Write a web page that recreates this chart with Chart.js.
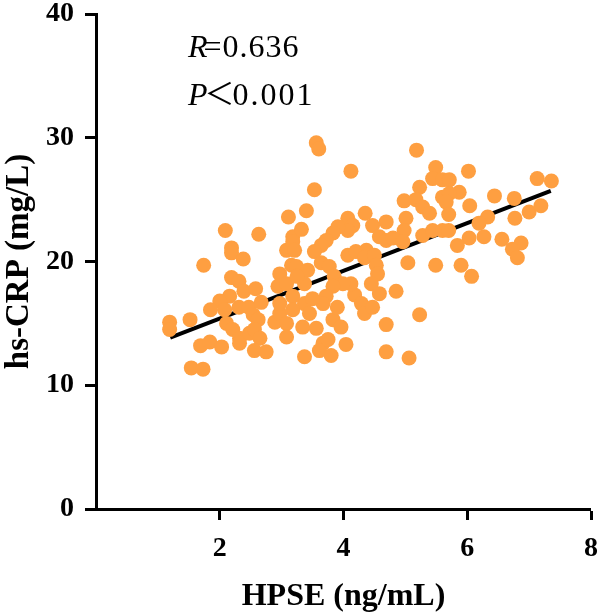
<!DOCTYPE html>
<html>
<head>
<meta charset="utf-8">
<script src="https://cdn.jsdelivr.net/npm/chart.js@4/dist/chart.umd.min.js"></script>
<style>
  html, body { margin: 0; padding: 0; background: #fff; }
  #wrap { width: 600px; height: 616px; position: relative; }
</style>
</head>
<body>
<div id="wrap"><canvas id="c" width="600" height="616"></canvas></div>
<script>
// HPSE (ng/mL) values
const hpse = [
  3.11, 2.09, 2.63, 2.19, 2.19, 2.38, 1.74, 2.19, 2.31, 2.39,
  2.58, 2.16, 2.00, 1.85, 2.08, 2.31, 2.47, 2.67, 2.54, 2.62,
  1.52, 1.19, 1.19, 2.11, 2.21, 2.32, 2.32, 2.48, 2.56, 2.65,
  2.56, 2.75, 1.69, 1.84, 2.03, 1.54, 1.73, 2.89, 2.97, 3.08,
  3.08, 2.97, 2.97, 3.16, 3.08, 3.18, 2.94, 3.08,
  3.56, 3.60, 5.18, 4.12, 5.49, 3.53, 3.40, 3.32, 4.35, 4.07,
  4.15, 4.07, 4.47, 4.69, 4.98, 5.23, 5.44, 5.60, 5.17, 5.28,
  5.39, 5.60, 5.01, 4.98, 5.28, 5.44, 5.60, 4.58, 4.69, 4.80,
  4.96, 3.91, 3.83, 3.72, 3.64, 3.53, 3.18, 3.21, 3.24, 3.42,
  3.64, 3.77, 3.85, 4.07, 4.20, 4.37, 4.34, 4.50, 4.53, 4.55,
  4.45, 4.58, 4.85, 5.04, 5.49, 5.23, 4.69, 4.69, 5.06, 3.37,
  4.04, 3.67, 3.61, 3.80, 3.75, 3.34, 3.56, 3.83, 3.96, 4.18,
  4.29, 4.34, 4.47, 4.12, 3.99, 3.83, 3.72, 3.67, 3.37, 3.37,
  3.18, 3.18, 3.45,
  6.02, 7.13, 7.36, 6.44, 6.76, 6.04, 5.71, 5.87, 5.71, 5.66,
  5.70, 6.33, 6.19, 6.77, 7.00, 7.19, 5.70, 6.03, 6.27, 5.84,
  6.56, 6.87, 6.73, 6.81, 5.90, 6.07,
  3.25, 3.50, 3.90
];
// hs-CRP (mg/L) values
const crp = [
  23.6, 22.5, 22.2, 21.1, 20.7, 20.2, 19.7, 18.7, 18.4, 17.6,
  17.8, 17.2, 16.8, 16.1, 16.1, 16.3, 16.3, 16.7, 15.7, 15.3,
  15.3, 15.1, 14.5, 15.0, 14.5, 13.8, 13.4, 14.2, 14.5, 13.8,
  12.8, 12.7, 13.2, 13.5, 13.1, 11.4, 11.3, 15.1, 15.8, 15.0,
  13.9, 16.6, 19.0, 19.7, 20.9, 22.0, 18.0, 18.2,
  29.6, 29.1, 29.0, 27.3, 27.6, 25.8, 24.1, 22.6, 23.9, 23.5,
  22.9, 22.5, 22.9, 23.2, 24.9, 26.0, 26.7, 26.6, 25.0, 24.4,
  23.9, 25.2, 23.5, 22.5, 22.1, 22.5, 22.5, 22.0, 21.7, 21.9,
  21.6, 22.8, 22.3, 21.7, 21.3, 20.8, 21.6, 20.9, 19.6, 19.3,
  19.9, 19.6, 18.8, 20.5, 20.8, 20.9, 20.3, 20.5, 19.7, 19.0,
  18.2, 17.4, 17.6, 19.9, 19.7, 15.7, 14.9, 12.7, 12.2, 12.3,
  13.3, 13.4, 12.8, 12.4, 13.7, 14.7, 14.6, 15.3, 14.7, 17.3,
  16.6, 15.8, 16.3, 18.2, 18.2, 18.0, 17.2, 16.6, 18.2, 16.6,
  17.2, 16.1, 15.8,
  27.3, 26.7, 26.5, 25.3, 25.1, 24.5, 26.6, 25.6, 25.5, 24.8,
  23.8, 23.6, 23.1, 23.5, 24.0, 24.5, 22.5, 21.9, 22.0, 21.3,
  21.8, 21.5, 21.0, 20.3, 19.7, 18.8,
  18.8, 17.0, 16.3
];
// Fitted line end points
const fitX = [1.2, 7.35];
const fitY = [13.85, 25.7];
// Axis ticks
const xTicks = [2, 4, 6, 8];
const yTicks = [0, 10, 20, 30, 40];
const statR = "0.636";
const statP = "0.001";

const points = hpse.map((x, i) => ({ x: x, y: crp[i] }));
const fitPts = fitX.map((x, i) => ({ x: x, y: fitY[i] }));

const SERIF = '"Liberation Serif", "Times New Roman", serif';
const tickFont = { family: SERIF, size: 28, weight: 'bold' };
const titleFont = { family: SERIF, size: 32, weight: 'bold' };
const yTitleFont = { family: SERIF, size: 33, weight: 'bold' };

const statsPlugin = {
  id: 'stats',
  afterDraw(chart) {
    const ctx = chart.ctx;
    const a = chart.chartArea;
    const x0 = a.left + 92;
    ctx.save();
    ctx.fillStyle = '#000';
    ctx.textBaseline = 'alphabetic';
    ctx.textAlign = 'left';
    // line 1
    let y = a.top + 43;
    ctx.font = 'italic 32px ' + SERIF;
    ctx.fillText('R', x0, y);
    let w = ctx.measureText('R').width;
    ctx.font = '32px ' + SERIF;
    ctx.letterSpacing = '1px';
    ctx.fillText('=' + statR, x0 + w - 4, y);
    ctx.letterSpacing = '0px';
    // line 2
    y = a.top + 91;
    ctx.font = 'italic 32px ' + SERIF;
    ctx.fillText('P', x0, y);
    w = ctx.measureText('P').width;
    ctx.font = '30px "Noto Sans CJK SC", ' + SERIF;
    ctx.fillText('\uFF1C', x0 + w - 3, y - 1);
    const w2 = ctx.measureText('\uFF1C').width;
    ctx.font = '32px ' + SERIF;
    ctx.letterSpacing = '2px';
    ctx.fillText(statP, x0 + w + w2 - 5, y);
    ctx.restore();
  }
};

new Chart(document.getElementById('c'), {
  type: 'scatter',
  data: {
    datasets: [
      {
        data: points,
        backgroundColor: '#FE9F41',
        borderWidth: 0,
        pointRadius: 7.5,
        pointHoverRadius: 7.5,
        order: 1
      },
      {
        type: 'line',
        data: fitPts,
        borderColor: '#000',
        borderWidth: 4,
        pointRadius: 0,
        fill: false,
        order: 2
      }
    ]
  },
  options: {
    responsive: false,
    animation: false,
    events: [],
    plugins: { legend: { display: false }, tooltip: { enabled: false } },
    layout: { padding: { top: 14, right: 9, left: 0, bottom: 0 } },
    scales: {
      x: {
        type: 'linear',
        min: 0, max: 8,
        afterBuildTicks: s => { s.ticks = [0].concat(xTicks).map(v => ({ value: v })); },
        afterFit: s => { s.height = 107; s.paddingLeft = 0; s.paddingRight = 0; },
        ticks: {
          callback: v => (v === 0 ? '' : String(v)),
          font: tickFont, color: '#000', padding: 12, maxRotation: 0
        },
        grid: {
          drawOnChartArea: false, drawTicks: true, tickLength: 11,
          lineWidth: c => (c.tick && c.tick.value === 0 ? 0 : 3), color: '#000'
        },
        border: { display: true, width: 3, color: '#000' },
        title: { display: true, text: 'HPSE (ng/mL)', font: titleFont, color: '#000', padding: { top: 0, bottom: 0 } }
      },
      y: {
        type: 'linear',
        min: 0, max: 40,
        afterBuildTicks: s => { s.ticks = yTicks.map(v => ({ value: v })); },
        afterFit: s => { s.width = 96; s.paddingTop = 0; s.paddingBottom = 0; },
        ticks: { font: tickFont, color: '#000', padding: 11 },
        grid: { drawOnChartArea: false, drawTicks: true, tickLength: 11, lineWidth: 3, color: '#000' },
        border: { display: true, width: 3, color: '#000' },
        title: { display: true, text: 'hs-CRP (mg/L)', font: yTitleFont, color: '#000', padding: { top: 0, bottom: 0 } }
      }
    }
  },
  plugins: [statsPlugin]
});
</script>
</body>
</html>
